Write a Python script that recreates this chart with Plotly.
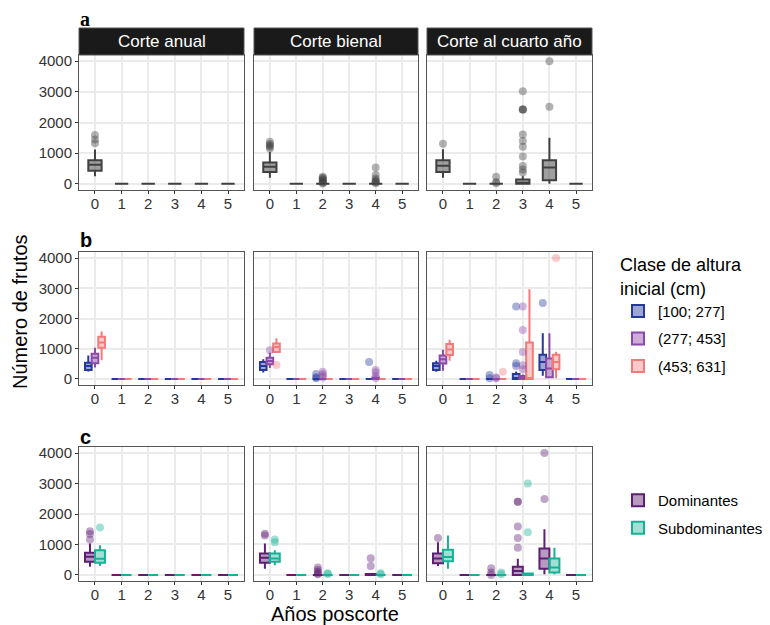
import plotly.graph_objects as go

# ---------------- data ----------------
years = [0, 1, 2, 3, 4, 5]
panels = ["Corte anual", "Corte bienal", "Corte al cuarto año"]
yticks = [0, 1000, 2000, 3000, 4000]

# Row a: all trees (one box per year), lists per panel
a_low = [[250, 0, 0, 0, 0, 0], [200, 0, 0, 0, 0, 0], [200, 0, 0, 0, 0, 0]]
a_q1 = [[430, 0, 0, 0, 0, 0], [390, 0, 0, 0, 0, 0], [390, 0, 0, 0, 120, 0]]
a_med = [[620, 0, 0, 0, 0, 0], [555, 0, 0, 0, 0, 0], [590, 0, 0, 20, 530, 0]]
a_q3 = [[770, 0, 0, 0, 0, 0], [700, 0, 0, 0, 0, 0], [770, 0, 0, 140, 770, 0]]
a_high = [[1120, 0, 0, 0, 0, 0], [1040, 0, 0, 0, 0, 0], [1130, 0, 0, 250, 1500, 0]]
a_out_x = [[0, 0, 0],
           [0, 0, 0, 0, 0, 2, 2, 2, 2, 2, 2, 2, 2, 4, 4, 4, 4, 4, 4, 4],
           [0, 2, 2, 2, 3, 3, 3, 3, 3, 3, 3, 3, 3, 3, 3, 4, 4]]
a_out_y = [[1320, 1450, 1590],
           [1150, 1210, 1260, 1300, 1370, 10, 40, 70, 100, 130, 170, 200, 230, 20, 50, 80, 120, 175, 285, 535],
           [1305, 20, 60, 230, 370, 470, 580, 890, 1210, 1400, 1610, 2420, 2420, 2420, 3020, 2510, 4000]]

# Row b: height classes
b_names = ["[100; 277]", "(277; 453]", "(453; 631]"]
b_low = [
    [[250, 0, 0, 0, 0, 0], [215, 0, 0, 0, 0, 0], [240, 0, 0, 0, 110, 0]],
    [[380, 0, 0, 0, 0, 0], [360, 0, 0, 0, 0, 0], [270, 0, 0, 0, 20, 0]],
    [[620, 0, 0, 0, 0, 0], [870, 0, 0, 0, 0, 0], [600, 0, 0, 0, 20, 0]],
]
b_q1 = [
    [[300, 0, 0, 0, 0, 0], [300, 0, 0, 0, 0, 0], [300, 0, 0, 0, 300, 0]],
    [[520, 0, 0, 0, 0, 0], [490, 0, 0, 0, 0, 0], [510, 0, 0, 0, 55, 0]],
    [[1030, 0, 0, 0, 0, 0], [890, 0, 0, 0, 0, 0], [790, 0, 0, 0, 320, 0]],
]
b_med = [
    [[430, 0, 0, 0, 0, 0], [430, 0, 0, 0, 0, 0], [430, 0, 0, 10, 560, 0]],
    [[700, 0, 0, 0, 0, 0], [595, 0, 0, 0, 0, 0], [650, 0, 0, 0, 345, 0]],
    [[1210, 0, 0, 0, 0, 0], [1060, 0, 0, 0, 0, 0], [975, 0, 0, 30, 560, 0]],
]
b_q3 = [
    [[540, 0, 0, 0, 0, 0], [560, 0, 0, 0, 0, 0], [520, 0, 0, 160, 800, 0]],
    [[830, 0, 0, 0, 0, 0], [700, 0, 0, 0, 40, 0], [780, 0, 0, 100, 680, 0]],
    [[1400, 0, 0, 0, 0, 0], [1170, 0, 0, 0, 0, 0], [1160, 0, 0, 1210, 800, 0]],
]
b_high = [
    [[780, 0, 0, 0, 0, 0], [650, 0, 0, 0, 0, 0], [600, 0, 0, 250, 1510, 0]],
    [[1030, 0, 0, 0, 0, 0], [870, 0, 0, 0, 80, 0], [970, 0, 0, 150, 1510, 0]],
    [[1570, 0, 0, 0, 0, 0], [1350, 0, 0, 0, 0, 0], [1300, 0, 0, 2970, 900, 0]],
]
b_out_x = [
    [[], [2, 2, 2, 4], [2, 2, 3, 3, 3, 4]],
    [[], [0, 2, 2, 2, 2, 4, 4, 4, 4], [2, 2, 3, 3, 3, 3, 3]],
    [[], [0], [2, 4]],
]
b_out_y = [
    [[], [20, 55, 160, 560], [20, 130, 430, 520, 2400, 2510]],
    [[], [950, 50, 110, 160, 240, 30, 110, 220, 300], [20, 50, 320, 450, 890, 1620, 2400]],
    [[], [465], [240, 4000]],
]

# Row c: social position
c_names = ["Dominantes", "Subdominantes"]
c_low = [
    [[270, 0, 0, 0, 0, 0], [205, 0, 0, 0, 0, 0], [290, 0, 0, 0, 20, 0]],
    [[290, 0, 0, 0, 0, 0], [320, 0, 0, 0, 0, 0], [205, 0, 0, 0, 20, 0]],
]
c_q1 = [
    [[430, 0, 0, 0, 0, 0], [400, 0, 0, 0, 0, 0], [380, 0, 0, 0, 205, 0]],
    [[400, 0, 0, 0, 0, 0], [430, 0, 0, 0, 0, 0], [450, 0, 0, 0, 75, 0]],
]
c_med = [
    [[595, 0, 0, 0, 0, 0], [560, 0, 0, 0, 0, 0], [540, 0, 0, 130, 540, 0]],
    [[530, 0, 0, 0, 0, 0], [540, 0, 0, 0, 0, 0], [590, 0, 0, 0, 240, 0]],
]
c_q3 = [
    [[725, 0, 0, 0, 0, 0], [700, 0, 0, 0, 30, 0], [700, 0, 0, 270, 865, 0]],
    [[810, 0, 0, 0, 0, 0], [700, 0, 0, 0, 0, 0], [830, 0, 0, 50, 540, 0]],
]
c_high = [
    [[1030, 0, 0, 0, 0, 0], [1030, 0, 0, 0, 60, 0], [1070, 0, 0, 530, 1500, 0]],
    [[970, 0, 0, 0, 0, 0], [810, 0, 0, 0, 0, 0], [1290, 0, 0, 80, 890, 0]],
]
c_out_x = [
    [[0, 0, 0], [0, 0, 2, 2, 2, 2, 2, 4, 4], [0, 2, 2, 2, 3, 3, 3, 3, 3, 4, 4]],
    [[0], [0, 0, 2, 2, 4, 4], [2, 2, 3, 3]],
]
c_out_y = [
    [[1160, 1340, 1430], [1290, 1350, 20, 50, 100, 160, 240, 290, 550],
     [1210, 0, 80, 215, 890, 1210, 1590, 2400, 2400, 2490, 4000]],
    [[1560], [1070, 1160, 30, 55, 20, 55], [20, 75, 1400, 3000]],
]

# ---------------- styling ----------------
FONT = "Liberation Sans, Arial, sans-serif"
W, H = 770, 625
OFF = 8  # page body margin
col_px = [(79, 244), (254, 418), (427, 592)]
row_px = [(55, 190), (252, 385), (447, 581)]


def fx(px):
    return (px - OFF) / W


def fy(py):
    return 1 - (py - OFF) / H


a_color = ("#404040", "rgba(64,64,64,0.5)", "rgba(64,64,64,0.4)")
b_colors = [("#26399a", "rgba(38,57,154,0.45)", "rgba(38,57,154,0.4)"),
            ("#8b4aa8", "rgba(139,74,168,0.45)", "rgba(139,74,168,0.4)"),
            ("#f47a7a", "rgba(244,122,122,0.4)", "rgba(244,122,122,0.4)")]
c_colors = [("#5e1f73", "rgba(94,31,115,0.45)", "rgba(94,31,115,0.4)"),
            ("#17b196", "rgba(23,177,150,0.4)", "rgba(23,177,150,0.4)")]

fig = go.Figure()


def add_group(r, c, off, width, colors, low, q1, med, q3, high, ox, oy,
              name, legend, show):
    k = r * 3 + c + 1
    line_c, fill_c, pt_c = colors
    fig.add_trace(go.Box(
        x=[y + off for y in years], q1=q1, median=med, q3=q3,
        lowerfence=low, upperfence=high, width=width, whiskerwidth=0,
        line=dict(color=line_c, width=2), fillcolor=fill_c,
        boxpoints=False, name=name, legendgroup=name, legend=legend,
        showlegend=show, xaxis=f"x{k}", yaxis=f"y{k}", hoverinfo="skip"))
    if len(oy):
        fig.add_trace(go.Scatter(
            x=[x + off for x in ox], y=oy, mode="markers",
            marker=dict(color=pt_c, size=8, line=dict(width=0)),
            showlegend=False, xaxis=f"x{k}", yaxis=f"y{k}", hoverinfo="skip"))


for p in range(3):
    add_group(0, p, 0, 0.5, a_color, a_low[p], a_q1[p], a_med[p], a_q3[p],
              a_high[p], a_out_x[p], a_out_y[p], "todos", "legend", False)
    for g in range(3):
        add_group(1, p, (g - 1) * 0.25, 0.25, b_colors[g], b_low[g][p], b_q1[g][p],
                  b_med[g][p], b_q3[g][p], b_high[g][p], b_out_x[g][p], b_out_y[g][p],
                  b_names[g], "legend", p == 0)
    for g in range(2):
        add_group(2, p, (g - 0.5) * 0.375, 0.375, c_colors[g], c_low[g][p], c_q1[g][p],
                  c_med[g][p], c_q3[g][p], c_high[g][p], c_out_x[g][p], c_out_y[g][p],
                  c_names[g], "legend2", p == 0)

layout = dict(
    width=W, height=H, margin=dict(l=0, r=0, t=0, b=0, autoexpand=False),
    paper_bgcolor="white", plot_bgcolor="white",
    font=dict(family=FONT, color="#333333", size=15),
    showlegend=True,
)
for r in range(3):
    for c in range(3):
        k = r * 3 + c + 1
        x0, x1 = col_px[c]
        y0, y1 = row_px[r]
        ax = dict(showline=True, linecolor="#555555", linewidth=1, mirror=True,
                  gridcolor="#ebebeb", gridwidth=1.5, zeroline=False,
                  ticks="outside", ticklen=3, tickcolor="#333333",
                  tickfont=dict(size=15, color="#333333"))
        layout[f"xaxis{k}"] = dict(ax, domain=[fx(x0), fx(x1)], range=[-0.6, 5.6],
                                   tickvals=years, anchor=f"y{k}", ticklabelstandoff=-3)
        layout[f"yaxis{k}"] = dict(ax, domain=[fy(y1), fy(y0)], range=[-200, 4200],
                                   tickvals=yticks, showticklabels=(c == 0),
                                   ticks="outside" if c == 0 else "", anchor=f"x{k}")

shapes, annotations = [], []
for c in range(3):
    x0, x1 = col_px[c]
    shapes.append(dict(type="rect", xref="paper", yref="paper",
                       x0=fx(x0), x1=fx(x1), y0=fy(55), y1=fy(28),
                       fillcolor="#1a1a1a", line=dict(color="#555555", width=1)))
    annotations.append(dict(text=panels[c], xref="paper", yref="paper",
                            x=fx((x0 + x1) / 2), y=fy(41.5), xanchor="center", yanchor="middle",
                            showarrow=False, font=dict(size=17, color="white", family=FONT)))
for lab, ypx, fam in [("a", 19, "Liberation Serif, serif"), ("b", 240, FONT), ("c", 437, FONT)]:
    annotations.append(dict(text=f"<b>{lab}</b>", xref="paper", yref="paper",
                            x=fx(78), y=fy(ypx), xanchor="left", yanchor="middle",
                            showarrow=False, font=dict(size=20, color="black", family=fam)))
annotations.append(dict(text="Número de frutos", xref="paper", yref="paper",
                        x=fx(20), y=fy(312), xanchor="center", yanchor="middle",
                        textangle=-90, showarrow=False,
                        font=dict(size=20, color="black")))
annotations.append(dict(text="Años poscorte", xref="paper", yref="paper",
                        x=fx(335), y=fy(614), xanchor="center", yanchor="middle",
                        showarrow=False, font=dict(size=20, color="black")))

layout["shapes"] = shapes
layout["annotations"] = annotations
layout["legend"] = dict(x=fx(618), y=fy(248), xanchor="left", yanchor="top",
                        title=dict(text="Clase de altura<br>inicial (cm)", font=dict(size=18, color="black")),
                        font=dict(size=15, color="black"), tracegroupgap=5,
                        bgcolor="rgba(0,0,0,0)")
layout["legend2"] = dict(x=fx(618), y=fy(484), xanchor="left", yanchor="top",
                         font=dict(size=15, color="black"), tracegroupgap=5,
                         bgcolor="rgba(0,0,0,0)")
fig.update_layout(layout)
fig.write_html("out.html")
